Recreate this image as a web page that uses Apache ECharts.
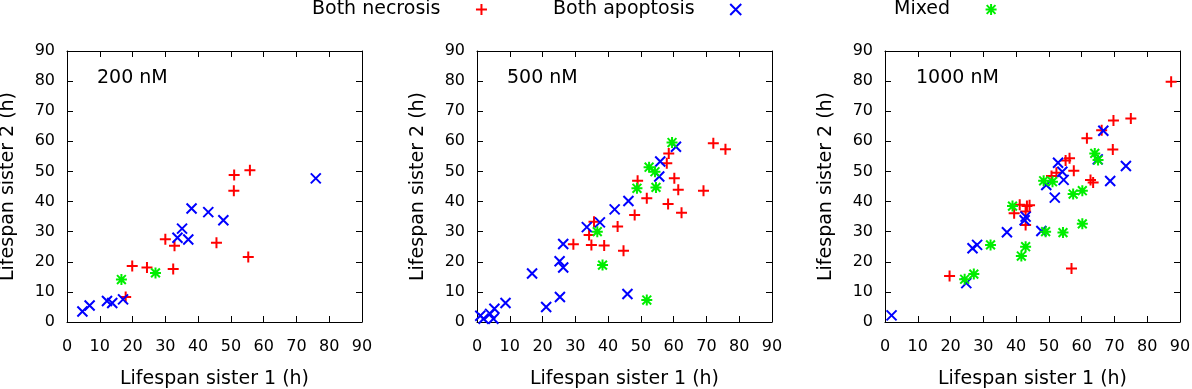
<!DOCTYPE html>
<html>
<head>
<meta charset="utf-8">
<script src="https://cdn.jsdelivr.net/npm/echarts@6/dist/echarts.min.js"></script>
<style>
  html, body { margin: 0; padding: 0; background: #fff; }
  #main { width: 1192px; height: 389px; }
</style>
</head>
<body>
<div id="main"></div>
<script>
// 数据: [sister 1, sister 2] in hours
var panelLabels = ['200 nM', '500 nM', '1000 nM'];
var seriesNames = ['Both necrosis', 'Both apoptosis', 'Mixed'];
var ticks = [0, 10, 20, 30, 40, 50, 60, 70, 80, 90];

var necrosis200 = [[17.9, 8.3], [19.9, 18.6], [24.4, 18.1], [30.0, 27.5], [32.8, 25.3], [32.4, 17.6],
  [45.6, 26.3], [51.0, 48.8], [50.9, 43.6], [55.8, 50.4], [55.3, 21.6]];
var apoptosis200 = [[4.7, 3.5], [6.9, 5.5], [12.2, 7.0], [13.8, 6.3], [17.1, 7.5], [33.7, 28.0],
  [35.1, 31.0], [37.0, 27.4], [38.0, 37.7], [43.1, 36.5], [47.7, 33.8], [75.9, 47.7]];
var mixed200 = [[16.6, 14.1], [27.0, 16.3]];

var necrosis500 = [[29.4, 25.8], [34.2, 28.9], [35.7, 33.3], [34.9, 25.6], [38.8, 25.4], [42.9, 31.7],
  [44.7, 23.7], [48.1, 35.5], [49.0, 46.9], [51.8, 41.1], [57.9, 52.7], [58.5, 56.0], [58.3, 39.2],
  [60.2, 47.7], [61.4, 43.9], [62.4, 36.3], [69.1, 43.6], [72.1, 59.4], [75.8, 57.4]];
var apoptosis500 = [[1.0, 2.1], [2.0, 1.1], [4.0, 2.7], [5.3, 4.4], [5.0, 1.1], [8.7, 6.3],
  [16.8, 16.1], [21.1, 5.0], [25.2, 20.2], [25.3, 8.3], [26.3, 18.1], [26.3, 25.9], [33.5, 31.5],
  [37.5, 33.1], [42.0, 37.4], [46.2, 40.2], [45.9, 9.3], [55.9, 53.3], [55.6, 48.3], [60.7, 58.2]];
var mixed500 = [[36.7, 30.0], [38.3, 18.9], [48.8, 44.4], [52.5, 51.4], [54.3, 49.9], [54.6, 44.7],
  [59.5, 59.6], [51.8, 7.3]];

var necrosis1000 = [[19.7, 15.3], [39.4, 36.1], [41.1, 38.9], [43.3, 38.5], [44.1, 38.8], [42.9, 36.7],
  [42.9, 32.2], [50.8, 48.5], [52.3, 49.6], [55.1, 53.6], [56.3, 54.4], [57.6, 50.2], [56.9, 17.8],
  [61.6, 61.0], [62.7, 47.2], [63.5, 46.3], [66.1, 63.7], [69.5, 57.3], [69.7, 66.9], [75.0, 67.6],
  [87.3, 79.8]];
var apoptosis1000 = [[2.0, 2.2], [24.8, 12.9], [26.7, 24.5], [28.1, 25.6], [37.2, 29.8], [42.6, 33.8],
  [42.9, 35.0], [47.7, 30.2], [49.2, 45.5], [51.8, 41.3], [52.8, 52.9], [54.1, 49.9], [54.5, 47.2],
  [64.9, 54.0], [66.6, 63.5], [68.7, 46.8], [73.5, 51.8]];
var mixed1000 = [[24.3, 14.2], [27.1, 15.9], [32.2, 25.6], [38.9, 38.5], [41.6, 21.9], [42.9, 25.0],
  [48.4, 46.9], [51.1, 46.6], [49.0, 30.0], [54.3, 29.7], [57.4, 42.5], [60.2, 43.6], [60.2, 32.6],
  [64.0, 56.0], [65.0, 53.8]];

var panelData = [
  [necrosis200, apoptosis200, mixed200],
  [necrosis500, apoptosis500, mixed500],
  [necrosis1000, apoptosis1000, mixed1000]
];

var colors = ['#ff0000', '#0000ff', '#00ee00'];
var symbols = [
  'path://M0,5L10,5M5,0L5,10',
  'path://M0,0L10,10M10,0L0,10',
  'path://M0,5L10,5M5,0L5,10M1,1L9,9M9,1L1,9'
];
var symbolSizes = [11, 10, 11];

var gridLefts = [67, 477, 885];
var gridWidth = 295;
var labelLefts = [97, 507, 916];
var font = 'DejaVu Sans';

var myChart = echarts.init(document.getElementById('main'));

var grids = [], xAxes = [], yAxes = [], series = [], titles = [];

function axisBase(pos, gi, showLabel, name) {
  return {
    type: 'value', gridIndex: gi, position: pos,
    min: 0, max: 90, interval: 10,
    axisLine: { show: true, onZero: false, lineStyle: { color: '#000', width: 1 } },
    axisTick: { show: true, inside: true, length: 6, lineStyle: { color: '#000' } },
    splitLine: { show: false },
    axisLabel: { show: showLabel, color: '#000', fontFamily: font, fontSize: 16,
      formatter: function (v) { return ticks.indexOf(v) >= 0 ? String(v) : ''; } },
    name: name || '', nameLocation: 'middle',
    nameTextStyle: { color: '#000', fontFamily: font, fontSize: 19 }
  };
}

for (var p = 0; p < 3; p++) {
  grids.push({ left: gridLefts[p], width: gridWidth, top: 51, height: 271,
    containLabel: false, outerBoundsMode: 'none' });
  var xb = axisBase('bottom', p, true, 'Lifespan sister 1 (h)');
  xb.nameGap = 48; xb.axisLabel.margin = 17;
  var yl = axisBase('left', p, true, 'Lifespan sister 2 (h)');
  yl.nameGap = 49; yl.axisLabel.margin = 12;
  xAxes.push(xb, axisBase('top', p, false));
  yAxes.push(yl, axisBase('right', p, false));
  titles.push({ text: panelLabels[p], left: labelLefts[p], top: 69, padding: 0,
    textStyle: { color: '#000', fontFamily: font, fontSize: 19, fontWeight: 'normal' } });
  for (var s = 0; s < 3; s++) {
    series.push({
      name: seriesNames[s], type: 'scatter',
      xAxisIndex: p * 2, yAxisIndex: p * 2,
      data: panelData[p][s],
      symbol: symbols[s], symbolSize: symbolSizes[s],
      itemStyle: { color: colors[s], borderColor: colors[s], borderWidth: 2, opacity: 1 },
      emphasis: { disabled: true },
      silent: true, animation: false
    });
  }
}

var legendLefts = [312, 553, 894];
var legends = seriesNames.map(function (n, i) {
  return {
    data: [n], left: legendLefts[i], top: 0, padding: 0, align: 'right',
    itemWidth: 72, itemHeight: 11, selectedMode: false,
    textStyle: { color: '#000', fontFamily: font, fontSize: 19 }
  };
});

myChart.setOption({
  animation: false,
  title: titles,
  legend: legends,
  grid: grids,
  xAxis: xAxes,
  yAxis: yAxes,
  series: series
});
</script>
</body>
</html>
